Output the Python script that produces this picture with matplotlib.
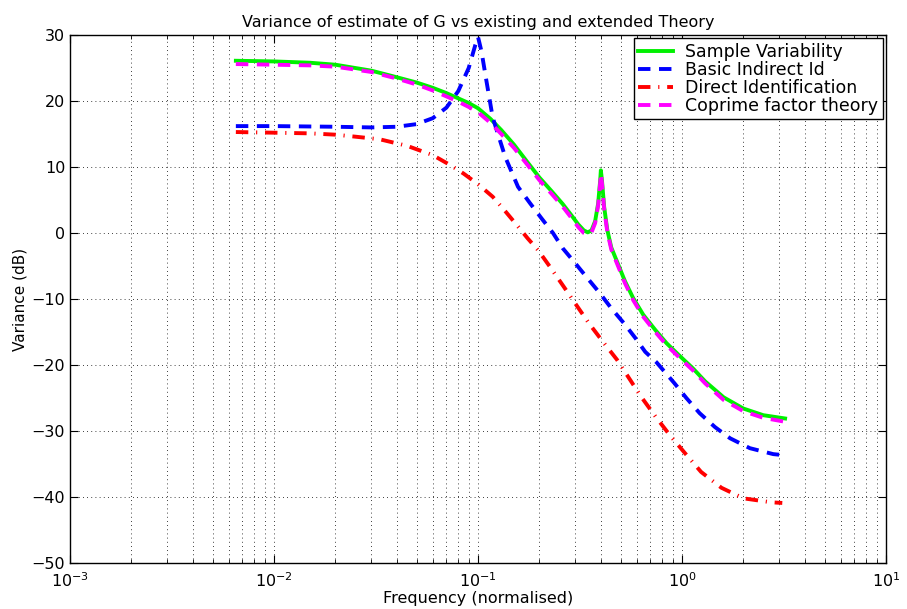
import matplotlib
matplotlib.use("Agg")
import matplotlib.pyplot as plt
from matplotlib.ticker import LogLocator, NullFormatter

plt.rcParams['font.family'] = ['DejaVu Sans']
plt.rcParams['axes.unicode_minus'] = True

# ---- data ----
f_green = [0.0065, 0.01, 0.015, 0.02, 0.03, 0.04, 0.05, 0.06, 0.07, 0.08, 0.09, 0.1,
           0.115, 0.13, 0.15, 0.175, 0.2, 0.23, 0.26, 0.29, 0.31, 0.33, 0.345, 0.36,
           0.375, 0.388, 0.397, 0.40, 0.405, 0.415, 0.43, 0.45, 0.487, 0.525, 0.577,
           0.646, 0.74, 0.84, 0.98, 1.13, 1.30, 1.6, 2.0, 2.5, 3.2]
v_green = [26.1, 26.0, 25.8, 25.5, 24.6, 23.6, 22.8, 22.0, 21.2, 20.4, 19.7, 18.9,
           17.3, 15.6, 13.4, 10.7, 8.4, 6.3, 4.4, 2.5, 1.3, 0.4, 0.1, 0.4,
           1.8, 4.5, 8.0, 9.5, 8.0, 4.0, 0.5, -2.2, -4.8, -7.3, -9.9,
           -12.4, -14.7, -16.7, -18.7, -20.5, -22.5, -24.9, -26.6, -27.6, -28.1]

f_magenta = f_green
v_magenta = [25.6, 25.5, 25.4, 25.2, 24.4, 23.4, 22.5, 21.6, 20.7, 19.9, 19.1, 18.3,
             16.7, 15.0, 12.9, 10.3, 8.0, 5.9, 4.0, 2.1, 0.9, 0.0, -0.2, 0.1,
             1.5, 4.2, 7.6, 9.0, 7.6, 3.7, 0.2, -2.5, -5.1, -7.6, -10.2,
             -12.7, -15.0, -17.0, -19.0, -20.8, -22.8, -25.3, -27.0, -28.0, -28.6]

f_blue = [0.0065, 0.01, 0.02, 0.03, 0.04, 0.05, 0.06, 0.07, 0.08, 0.09, 0.097, 0.1,
          0.104, 0.11, 0.118, 0.136, 0.157, 0.18, 0.205, 0.233, 0.26, 0.3, 0.345,
          0.395, 0.45, 0.52, 0.59, 0.66, 0.75, 0.92, 1.05, 1.22, 1.45, 1.72, 2.15,
          2.8, 3.25]
v_blue = [16.2, 16.2, 16.1, 16.0, 16.1, 16.5, 17.4, 19.0, 21.5, 25.0, 28.5, 29.7,
          27.5, 23.0, 17.5, 11.5, 7.0, 4.5, 2.2, 0.0, -2.3, -4.6, -6.9,
          -9.1, -11.4, -13.7, -15.9, -18.0, -19.6, -22.8, -25.0, -27.3, -29.4, -31.1, -32.6,
          -33.5, -33.7]

f_red = [0.0065, 0.01, 0.015, 0.02, 0.025, 0.033, 0.045, 0.06, 0.073, 0.085, 0.1,
         0.118, 0.136, 0.155, 0.175, 0.197, 0.225, 0.26, 0.3, 0.35, 0.41, 0.48,
         0.55, 0.63, 0.745, 0.87, 1.03, 1.24, 1.56, 2.0, 2.74, 3.1]
v_red = [15.3, 15.2, 15.1, 14.9, 14.6, 14.2, 13.2, 11.8, 10.3, 9.0, 7.4,
         5.5, 3.3, 1.2, -0.8, -2.6, -5.1, -7.9, -10.7, -13.7, -16.5, -19.2,
         -22.0, -24.8, -27.9, -30.6, -33.3, -36.2, -38.6, -40.2, -40.8, -40.9]

labels = ['Sample Variability', 'Basic Indirect Id', 'Direct Identification',
          'Coprime factor theory']
title = 'Variance of estimate of G vs existing and extended Theory'
xlabel = 'Frequency (normalised)'
ylabel = 'Variance (dB)'

fig = plt.figure(figsize=(9.07, 6.09), dpi=100)
ax = fig.add_axes([0.0772, 0.0755, 0.8997, 0.867])

ax.plot(f_green, v_green, color='#00f000', lw=2.8, ls='-', label=labels[0], zorder=3)
ax.plot(f_blue, v_blue, color='#0000ff', lw=2.8, ls=(0, (3.2, 2.2)), label=labels[1], zorder=4)
ax.plot(f_red, v_red, color='#ff0000', lw=2.8, ls=(0, (3.2, 2.0, 0.3, 2.0)), label=labels[2], zorder=4)
ax.plot(f_magenta, v_magenta, color='#ff00ff', lw=2.8, ls=(0, (3.2, 2.2)), label=labels[3], zorder=5)

ax.set_xscale('log')
ax.set_xlim(1e-3, 1e1)
ax.set_ylim(-50, 30)
ax.set_yticks(range(-50, 31, 10))
ax.xaxis.set_major_locator(LogLocator(base=10, numticks=10))
ax.xaxis.set_minor_locator(LogLocator(base=10, subs=range(2, 10), numticks=100))
ax.xaxis.set_minor_formatter(NullFormatter())

ax.grid(True, which='major', axis='both', color='black', ls=(0, (1, 4)), lw=0.6)
ax.grid(True, which='minor', axis='x', color='black', ls=(0, (1, 4)), lw=0.6)

ax.tick_params(which='both', direction='in', top=True, right=True, labelsize=11.5)
ax.tick_params(which='major', length=6)
ax.tick_params(which='minor', length=3)
ax.tick_params(axis='x', which='major', pad=6)
for s in ax.spines.values():
    s.set_linewidth(1.0)

ax.set_title(title, fontsize=11.5, pad=6)
ax.set_xlabel(xlabel, fontsize=11.5, labelpad=1)
ax.set_ylabel(ylabel, fontsize=11, labelpad=3)

leg = ax.legend(loc='upper right', fontsize=12.5, fancybox=False, framealpha=1,
                edgecolor='black', borderaxespad=0.2, handlelength=2.0,
                handletextpad=0.7, labelspacing=0.0, borderpad=0.25)
leg.get_frame().set_linewidth(1.0)

fig.savefig('out.png', dpi=100)
